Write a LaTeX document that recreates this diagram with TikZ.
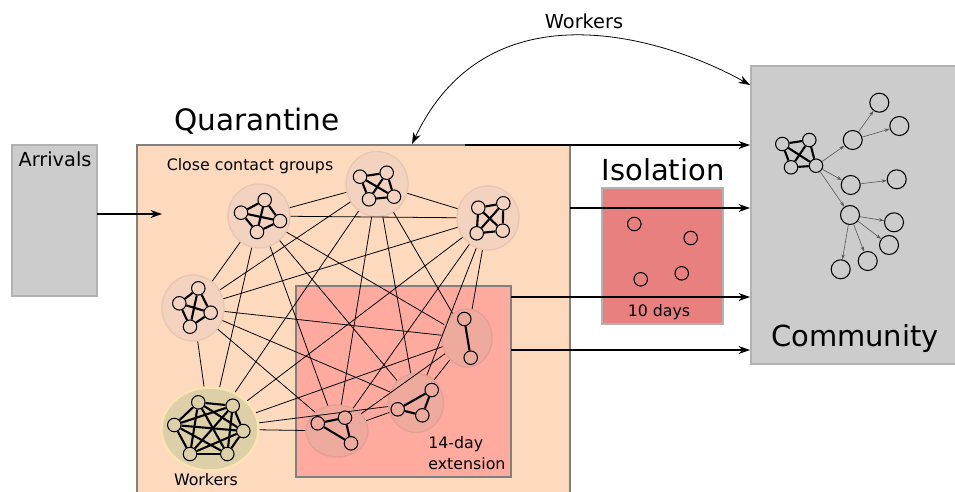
\documentclass[tikz,border=0pt]{standalone}
\usepackage{fontspec}
\setmainfont{DejaVu Sans}
\usetikzlibrary{arrows.meta,shapes.geometric}

\definecolor{quarfill}{RGB}{253,217,190}
\definecolor{quarline}{RGB}{128,128,128}
\definecolor{extfill}{RGB}{255,170,158}
\definecolor{isofill}{RGB}{232,128,128}
\definecolor{greyfill}{RGB}{204,204,204}
\definecolor{greyline}{RGB}{178,178,178}
\definecolor{grpfill}{RGB}{243,211,191}
\definecolor{grpline}{RGB}{232,198,178}
\definecolor{extgrpfill}{RGB}{239,170,158}
\definecolor{extgrpline}{RGB}{228,160,150}
\definecolor{wrkfill}{RGB}{221,207,168}
\definecolor{wrkline}{RGB}{251,228,180}

\begin{document}
\begin{tikzpicture}[x=0.02cm,y=-0.02cm,
  grp/.style={ellipse,draw=grpline,fill=grpfill,line width=0.8pt,inner sep=0pt},
  extgrp/.style={grp,draw=extgrpline,fill=extgrpfill},
  pers/.style={circle,draw,fill=grpfill,line width=0.6pt,minimum size=0.27cm,inner sep=0pt},
  case/.style={circle,draw,line width=0.6pt,minimum size=0.38cm,inner sep=0pt},
  tie/.style={line width=1.2pt},
  link/.style={line width=0.45pt},
  flow/.style={-{Stealth[length=6.5pt,width=4.5pt,inset=2pt]},line width=0.6pt},
  spread/.style={-{Stealth[length=3pt,width=2pt]},line width=0.35pt,draw=black!65}]
\useasboundingbox (0,0) rectangle (955,491);

% boxes
\draw[greyline,fill=greyfill,line width=0.7pt] (12,145) rectangle (97,296);
\draw[quarline,fill=quarfill,line width=1.1pt] (137,145) rectangle (570,500);
\draw[quarline,fill=extfill,line width=0.7pt] (296,286) rectangle (511,477);
\draw[greyline,fill=isofill,line width=0.7pt] (602,188) rectangle (723,324);
\draw[greyline,fill=greyfill,line width=0.7pt] (751,66) rectangle (960,364);

% titles
\node[font=\fontsize{16.8}{20}\selectfont] (qtitle) at (257,121) {Quarantine};
\node[font=\fontsize{16.5}{20}\selectfont] (ititle) at (663,170) {Isolation};
\node[font=\fontsize{16.5}{20}\selectfont] (ctitle) at (855,338) {Community};
\node[font=\fontsize{11}{13}\selectfont] (atitle) at (55,159) {Arrivals};
\node[font=\fontsize{11}{13}\selectfont] (wtitle) at (584,21) {Workers};
\node[font=\fontsize{9}{11}\selectfont] (cgroups) at (250,166) {Close contact groups};
\node[font=\fontsize{9}{11}\selectfont] (tendays) at (659,312) {10 days};
\node[font=\fontsize{9}{11}\selectfont] (wlabel) at (206,480) {Workers};
\node[font=\fontsize{9}{12}\selectfont,align=left,anchor=north west,inner sep=0pt] (extlabel) at (428,436) {14-day\\extension};

% close contact groups
\node[grp,minimum width=1.24cm,minimum height=1.28cm] (grp1) at (259,216) {};
\node[grp,minimum width=1.24cm,minimum height=1.30cm] (grp2) at (377,184) {};
\node[grp,minimum width=1.24cm,minimum height=1.28cm] (grp3) at (488,218) {};
\node[grp,minimum width=1.24cm,minimum height=1.32cm] (grp4) at (193,308) {};
\node[grp,draw=wrkline,fill=wrkfill,line width=1.4pt,minimum width=1.94cm,minimum height=1.66cm] (grp5) at (210,429) {};
\node[extgrp,minimum width=1.00cm,minimum height=1.16cm] (grp6) at (467,338) {};
\node[extgrp,minimum width=1.10cm,minimum height=1.18cm] (grp7) at (416,403) {};
\node[extgrp,minimum width=1.24cm,minimum height=1.04cm] (grp8) at (337,431) {};

\foreach \i in {1,...,7}{
  \pgfmathtruncatemacro\nxt{\i+1}
  \foreach \j in {\nxt,...,8}
    \draw[link] (grp\i) -- (grp\j);
}

% people
\node[pers] (a1) at (264.7,200) {};
\node[pers] (a2) at (241,212.7) {};
\node[pers] (a3) at (280,221) {};
\node[pers] (a4) at (257,232) {};
\node[pers] (b1) at (360,176.7) {};
\node[pers] (b2) at (386.7,172.7) {};
\node[pers] (b3) at (394,196.7) {};
\node[pers] (b4) at (369,199.3) {};
\node[pers] (c1) at (478.3,207.7) {};
\node[pers] (c2) at (503.3,203.3) {};
\node[pers] (c3) at (502.7,230.7) {};
\node[pers] (c4) at (476.7,233.3) {};
\node[pers] (d1) at (198.3,288.3) {};
\node[pers] (d2) at (179.3,303.3) {};
\node[pers] (d3) at (210.7,312.7) {};
\node[pers] (d4) at (190,326.7) {};
\node[pers,fill=wrkfill] (w1) at (198.3,402.3) {};
\node[pers,fill=wrkfill] (w2) at (232.7,405.7) {};
\node[pers,fill=wrkfill] (w3) at (174.3,425) {};
\node[pers,fill=wrkfill] (w4) at (243.3,431) {};
\node[pers,fill=wrkfill] (w5) at (190,454) {};
\node[pers,fill=wrkfill] (w6) at (227.3,454) {};
\node[pers,fill=extgrpfill] (e1) at (464.3,319) {};
\node[pers,fill=extgrpfill] (e2) at (470.7,357.7) {};
\node[pers,fill=extgrpfill] (f1) at (431.7,390) {};
\node[pers,fill=extgrpfill] (f2) at (397.7,409.3) {};
\node[pers,fill=extgrpfill] (f3) at (422.3,415.3) {};
\node[pers,fill=extgrpfill] (h1) at (317.7,423.3) {};
\node[pers,fill=extgrpfill] (h2) at (345,417.7) {};
\node[pers,fill=extgrpfill] (h3) at (351,443.3) {};

\foreach \g in {a,b,c,d}
  \foreach \u/\v in {1/2,1/3,1/4,2/3,2/4,3/4}
    \draw[tie] (\g\u) -- (\g\v);
\foreach \u/\v in {1/2,1/3,1/4,1/5,1/6,2/3,2/4,2/5,2/6,3/4,3/5,3/6,4/5,4/6,5/6}
  \draw[tie] (w\u) -- (w\v);
\draw[tie] (e1) -- (e2);
\foreach \g in {f,h}
  \foreach \u/\v in {1/2,2/3,3/1}
    \draw[tie] (\g\u) -- (\g\v);

% isolation
\node[pers,fill=none] (i1) at (634.3,224) {};
\node[pers,fill=none] (i2) at (690.7,238) {};
\node[pers,fill=none] (i3) at (640.7,279.3) {};
\node[pers,fill=none] (i4) at (681.7,273.3) {};

% community
\node[pers,fill=none] (k1) at (782.3,144) {};
\node[pers,fill=none] (k2) at (809.3,140) {};
\node[pers,fill=none] (k3) at (791,167.3) {};
\node[pers,fill=none] (k4) at (816,165.7) {};
\foreach \u/\v in {1/2,1/3,1/4,2/3,2/4,3/4}
  \draw[tie] (k\u) -- (k\v);
\node[case] (m1) at (852.7,140) {};
\node[case] (m2) at (879.3,102.7) {};
\node[case] (m3) at (899.3,126) {};
\node[case] (m4) at (850.7,185) {};
\node[case] (m5) at (896.7,179.3) {};
\node[case] (m6) at (850,215) {};
\node[case] (m7) at (894,222.3) {};
\node[case] (m8) at (889,245) {};
\node[case] (m9) at (867.7,261) {};
\node[case] (m10) at (840.7,269.3) {};
\foreach \u/\v in {k4/m1,k4/m4,k4/m6,m1/m2,m1/m3,m4/m5,m6/m7,m6/m8,m6/m9,m6/m10}
  \draw[spread] (\u) -- (\v);

% flows
\coordinate (arrout) at (97,214);
\coordinate (arrin) at (162,214);
\coordinate (qtop) at (465,145);
\coordinate (qright) at (570,208);
\coordinate (xout1) at (511,297);
\coordinate (xout2) at (511,350);
\coordinate (cin1) at (750,145);
\coordinate (cin2) at (750,208);
\coordinate (cin3) at (750,297);
\coordinate (cin4) at (750,350);
\coordinate (wq) at (412,144);
\coordinate (wc) at (750,85);
\draw[flow] (arrout) -- (arrin);
\draw[flow] (qtop) -- (cin1);
\draw[flow] (qright) -- (cin2);
\draw[flow] (xout1) -- (cin3);
\draw[flow] (xout2) -- (cin4);
\draw[{Stealth[length=6.5pt,width=4.5pt,inset=2pt]}-{Stealth[length=6.5pt,width=4.5pt,inset=2pt]},line width=0.45pt]
  (wq) .. controls (490,-20) and (670,40) .. (wc);
\end{tikzpicture}
\end{document}
